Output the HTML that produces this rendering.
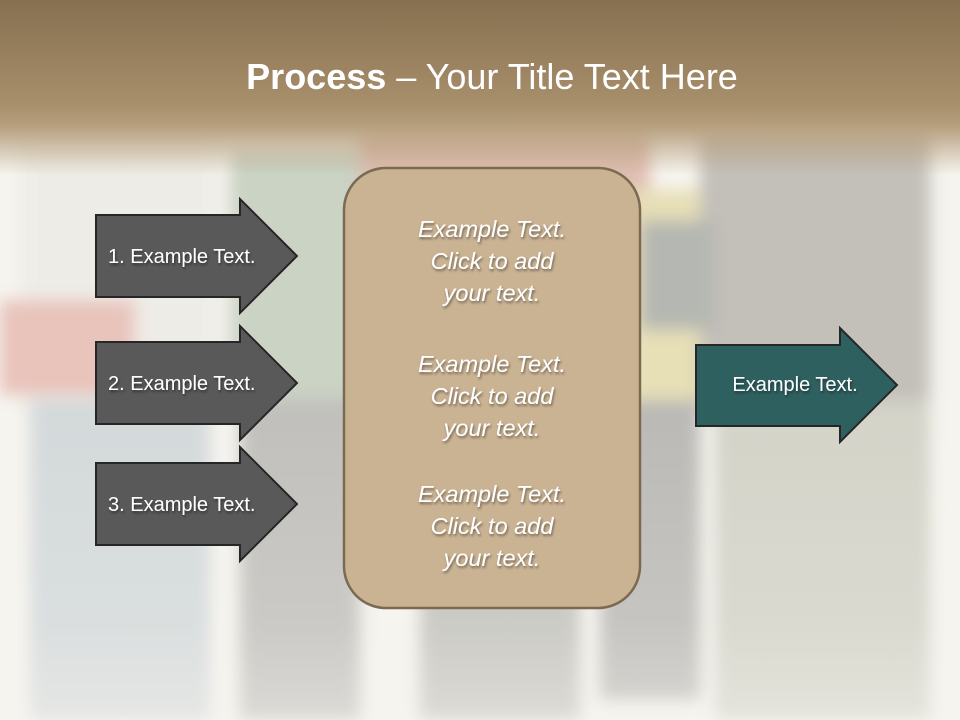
<!DOCTYPE html>
<html><head><meta charset="utf-8"><style>
html,body{margin:0;padding:0;width:960px;height:720px;overflow:hidden;background:#f6f4ef}
svg{display:block}
text{font-family:"Liberation Sans",sans-serif}
</style></head><body>
<svg width="960" height="720" viewBox="0 0 960 720" xmlns="http://www.w3.org/2000/svg">
<defs>
<linearGradient id="top" x1="0" y1="0" x2="0" y2="1">
<stop offset="0" stop-color="#86704f"/>
<stop offset="0.6" stop-color="#a88f6c"/>
<stop offset="0.72" stop-color="#b69f7d"/>
<stop offset="1" stop-color="#b69f7d" stop-opacity="0"/>
</linearGradient>
<linearGradient id="fadeB" x1="0" y1="0" x2="0" y2="1">
<stop offset="0" stop-color="#f6f4ef" stop-opacity="0"/>
<stop offset="0.7" stop-color="#f6f4ef" stop-opacity="0.2"/>
<stop offset="1" stop-color="#f6f4ef" stop-opacity="0.5"/>
</linearGradient>
<filter id="bl"><feGaussianBlur stdDeviation="8"/></filter>
<filter id="sh"><feDropShadow dx="1" dy="2" stdDeviation="1.2" flood-color="#000" flood-opacity="0.45"/></filter>
</defs>
<rect width="960" height="720" fill="#f6f4ef"/>
<g filter="url(#bl)" opacity="0.75">
<rect x="20" y="130" width="200" height="280" fill="#eceae4"/>
<rect x="30" y="400" width="180" height="320" fill="#c8d0d4"/>
<rect x="0" y="300" width="135" height="95" fill="#e4b4aa"/>
<rect x="230" y="150" width="130" height="250" fill="#bcc8b6"/>
<rect x="240" y="400" width="120" height="320" fill="#aeaeaa"/>
<rect x="360" y="130" width="290" height="200" fill="#d8ac9c"/>
<rect x="420" y="400" width="160" height="320" fill="#b0b0ac"/>
<rect x="630" y="190" width="110" height="210" fill="#e2d8a4"/>
<rect x="600" y="400" width="100" height="300" fill="#a6a6a2"/>
<rect x="700" y="130" width="230" height="280" fill="#b2aea7"/>
<rect x="715" y="400" width="215" height="320" fill="#c8c8bc"/>
<rect x="640" y="220" width="75" height="110" fill="#a0a49e"/>
</g>
<rect x="0" y="400" width="960" height="320" fill="url(#fadeB)"/>
<rect x="0" y="0" width="960" height="175" fill="url(#top)"/>
<text x="492" y="89" text-anchor="middle" font-size="36" fill="#fff"><tspan font-weight="bold">Process</tspan> – Your Title Text Here</text>
<g stroke="#262626" stroke-width="2" fill="#595959">
<polygon points="96,215 240,215 240,199 297,256 240,313 240,297 96,297"/>
<polygon points="96,342 240,342 240,326 297,383 240,440 240,424 96,424"/>
<polygon points="96,463 240,463 240,447 297,504 240,561 240,545 96,545"/>
</g>
<polygon points="696,345 840,345 840,328 897,385 840,442 840,426 696,426" fill="#2f6060" stroke="#262626" stroke-width="2"/>
<g font-size="20" fill="#fff" filter="url(#sh)">
<text x="108" y="263">1. Example Text.</text>
<text x="108" y="390">2. Example Text.</text>
<text x="108" y="511">3. Example Text.</text>
<text x="795" y="391" text-anchor="middle">Example Text.</text>
</g>
<rect x="344" y="168" width="296" height="440" rx="42" fill="#cab393" stroke="#7a6a52" stroke-width="2.5"/>
<g font-size="23.5" fill="#fff" font-style="italic" text-anchor="middle" filter="url(#sh)">
<text x="492" y="237">Example Text.</text>
<text x="492" y="269">Click  to add</text>
<text x="492" y="301">your text.</text>
<text x="492" y="372">Example Text.</text>
<text x="492" y="404">Click  to add</text>
<text x="492" y="436">your text.</text>
<text x="492" y="502">Example Text.</text>
<text x="492" y="534">Click  to add</text>
<text x="492" y="566">your text.</text>
</g>
</svg>
</body></html>
